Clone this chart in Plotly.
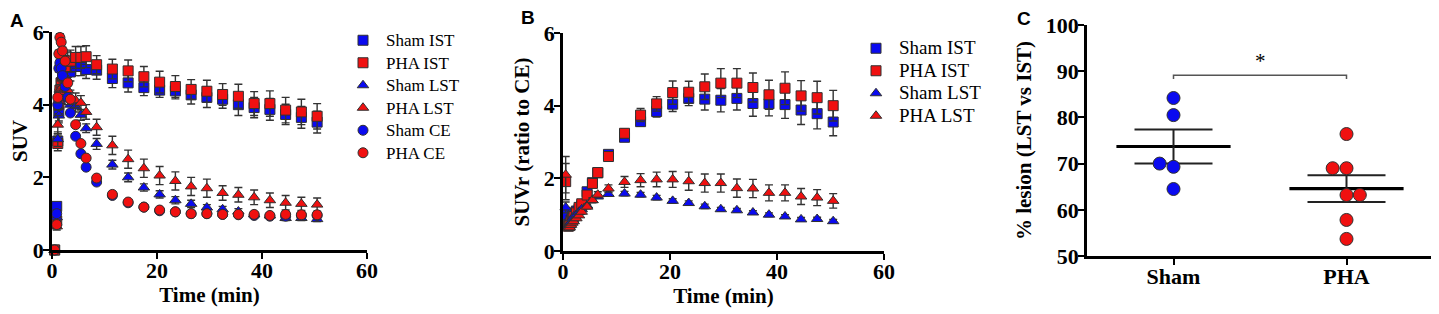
import plotly.graph_objects as go

# ---------------- Panel A data ----------------
t_a = [0.5, 0.9, 1.1, 1.3, 1.5, 1.75, 2.0, 2.5, 3.0, 3.5, 4.5, 5.5, 6.5, 8.5, 11.5, 14.5,
       17.5, 20.5, 23.5, 26.5, 29.5, 32.5, 35.5, 38.5, 41.5, 44.5, 47.5, 50.5]
sham_ist_a = [0, 1.2, 3.0, 3.8, 4.3, 4.6, 4.95, 5.1, 5.0, 4.9, 5.05, 5.05, 4.97, 4.95, 4.72, 4.6,
              4.47, 4.4, 4.38, 4.27, 4.2, 4.15, 4.0, 3.92, 3.87, 3.73, 3.65, 3.52]
pha_ist_a = [0, 0.8, 2.93, 4.0, 4.4, 4.6, 4.8, 5.05, 5.2, 5.2, 5.3, 5.3, 5.32, 5.1, 4.98, 4.93,
             4.77, 4.62, 4.5, 4.42, 4.37, 4.28, 4.23, 4.03, 4.03, 3.85, 3.8, 3.68]
sham_lst_a = [0, 0.9, 3.05, 3.7, 4.1, 4.3, 4.4, 4.3, 4.2, 4.0, 3.95, 3.72, 3.35, 2.92, 2.35, 2.0,
              1.72, 1.53, 1.37, 1.27, 1.17, 1.12, 1.06, 0.98, 0.95, 0.88, 0.88, 0.85]
pha_lst_a = [0, 0.65, 3.45, 4.1, 4.35, 4.45, 4.5, 4.45, 4.4, 4.2, 4.12, 4.05, 3.8, 3.38, 2.88, 2.5,
             2.25, 2.05, 1.9, 1.75, 1.7, 1.57, 1.52, 1.45, 1.37, 1.3, 1.27, 1.25]
sham_ce_a = [0, 1.0, 4.0, 5.0, 5.15, 5.0, 4.8, 4.5, 4.2, 3.77, 3.13, 2.65, 2.28, 1.87, 1.5, 1.3,
             1.18, 1.08, 1.05, 1.0, 1.0, 0.98, 0.97, 0.95, 0.93, 0.93, 0.95, 0.95]
pha_ce_a = [0, 0.7, 4.2, 5.4, 5.85, 5.72, 5.48, 5.2, 4.6, 4.15, 3.45, 2.93, 2.53, 1.98, 1.53, 1.32,
            1.18, 1.1, 1.05, 1.0, 1.0, 0.98, 0.98, 0.98, 0.95, 0.98, 0.97, 0.97]

err_sham_ist_a = [0, 0.1, 0.2, 0.25, 0.25, 0.25, 0.25, 0.25, 0.25, 0.25, 0.25, 0.25, 0.25, 0.25, 0.25, 0.25,
                  0.22, 0.2, 0.22, 0.25, 0.28, 0.25, 0.3, 0.28, 0.3, 0.28, 0.3, 0.3]
err_pha_ist_a = [0, 0.1, 0.2, 0.25, 0.25, 0.25, 0.25, 0.25, 0.25, 0.3, 0.3, 0.3, 0.3, 0.25, 0.27, 0.3,
                 0.28, 0.3, 0.3, 0.27, 0.3, 0.3, 0.33, 0.33, 0.35, 0.35, 0.35, 0.35]
err_sham_lst_a = [0, 0.1, 0.2, 0.2, 0.2, 0.2, 0.2, 0.2, 0.2, 0.15, 0.15, 0.15, 0.12, 0.15, 0.12, 0.12,
                  0.1, 0.1, 0.1, 0.1, 0.08, 0.08, 0.08, 0.07, 0.07, 0.07, 0.07, 0.07]
err_pha_lst_a = [0, 0.1, 0.25, 0.2, 0.2, 0.2, 0.2, 0.2, 0.2, 0.2, 0.2, 0.2, 0.2, 0.22, 0.25, 0.25,
                 0.25, 0.25, 0.25, 0.25, 0.25, 0.2, 0.2, 0.2, 0.2, 0.2, 0.18, 0.18]
err_sham_ce_a = [0, 0.1, 0.15, 0.1, 0.1, 0.1, 0.1, 0.08, 0.08, 0.05, 0.05, 0.05, 0.05, 0.05, 0.04, 0.04,
                 0.04, 0.04, 0.04, 0.04, 0.04, 0.04, 0.04, 0.04, 0.04, 0.04, 0.04, 0.04]
err_pha_ce_a = [0, 0.1, 0.15, 0.1, 0.1, 0.1, 0.1, 0.08, 0.08, 0.05, 0.05, 0.05, 0.05, 0.05, 0.04, 0.04,
                0.04, 0.04, 0.04, 0.04, 0.04, 0.04, 0.04, 0.04, 0.04, 0.04, 0.04, 0.04]

# ---------------- Panel B data ----------------
t_b = [0.5, 1.0, 1.25, 1.5, 1.75, 2.0, 2.5, 3.0, 3.5, 4.5, 5.5, 6.5, 8.5, 11.5, 14.5, 17.5,
       20.5, 23.5, 26.5, 29.5, 32.5, 35.5, 38.5, 41.5, 44.5, 47.5, 50.5]
sham_ist_b = [1.0, 0.72, 0.75, 0.85, 0.95, 1.05, 1.1, 1.15, 1.25, 1.63, 1.88, 2.15, 2.66, 3.13, 3.56, 3.84,
              4.04, 4.2, 4.18, 4.15, 4.2, 4.06, 4.05, 4.03, 3.88, 3.78, 3.55]
pha_ist_b = [1.91, 0.68, 0.7, 0.8, 0.9, 0.95, 1.05, 1.2, 1.3, 1.54, 1.86, 2.16, 2.6, 3.24, 3.74, 4.05,
             4.36, 4.37, 4.52, 4.62, 4.62, 4.5, 4.3, 4.48, 4.27, 4.22, 4.0]
sham_lst_b = [1.2, 0.7, 0.72, 0.8, 0.9, 0.95, 1.0, 1.08, 1.15, 1.25, 1.4, 1.5, 1.57, 1.58, 1.55, 1.47,
              1.38, 1.32, 1.23, 1.15, 1.12, 1.06, 1.0, 0.95, 0.87, 0.88, 0.82]
pha_lst_b = [2.1, 0.65, 0.65, 0.72, 0.78, 0.82, 0.9, 0.98, 1.08, 1.22, 1.4, 1.55, 1.72, 1.9, 1.95, 1.97,
             1.97, 1.92, 1.87, 1.87, 1.73, 1.72, 1.6, 1.6, 1.5, 1.47, 1.38]

err_sham_ist_b = [0.2, 0.05, 0.05, 0.05, 0.05, 0.05, 0.05, 0.05, 0.05, 0.05, 0.05, 0.05, 0.07, 0.1, 0.12, 0.15,
                  0.2, 0.2, 0.3, 0.32, 0.32, 0.35, 0.33, 0.38, 0.4, 0.42, 0.38]
err_pha_ist_b = [0.5, 0.05, 0.05, 0.05, 0.05, 0.05, 0.05, 0.05, 0.05, 0.05, 0.05, 0.05, 0.07, 0.12, 0.18, 0.2,
                 0.32, 0.3, 0.35, 0.4, 0.4, 0.4, 0.4, 0.45, 0.42, 0.45, 0.42]
err_sham_lst_b = [0.15, 0.03, 0.03, 0.03, 0.03, 0.03, 0.03, 0.03, 0.03, 0.04, 0.04, 0.05, 0.05, 0.06, 0.06, 0.06,
                  0.06, 0.06, 0.06, 0.05, 0.05, 0.05, 0.05, 0.05, 0.05, 0.05, 0.05]
err_pha_lst_b = [0.5, 0.03, 0.03, 0.03, 0.03, 0.03, 0.04, 0.04, 0.05, 0.06, 0.07, 0.08, 0.1, 0.15, 0.18, 0.2,
                 0.22, 0.25, 0.25, 0.25, 0.25, 0.25, 0.22, 0.22, 0.22, 0.22, 0.2]

# ---------------- Panel C data ----------------
groups_c = ["Sham", "PHA"]
sham_c = [84.2, 80.5, 70.0, 69.3, 64.5]
sham_c_jitter = [0, 0, -0.08, 0, 0]
pha_c = [76.4, 69.0, 69.0, 63.2, 63.2, 57.8, 53.7]
pha_c_jitter = [0, -0.08, 0, 0, 0.077, 0, 0]
sham_mean, sham_sem = 73.7, 3.7
pha_mean, pha_sem = 64.6, 2.9

BLUE = "#0a0af0"
RED = "#f01010"
EDGE = "#303030"
SERIF = "Liberation Serif"

fig = go.Figure()


def series(x, y, err, name, color, symbol, xa, ya, legend, txtsize, size=10):
    fig.add_trace(go.Scatter(
        x=x, y=y, mode="markers",
        name=f"<span style='font-size:{txtsize}px'>{name}</span>", legend=legend,
        xaxis=xa, yaxis=ya, cliponaxis=False,
        marker=dict(symbol=symbol, size=size, color=color, line=dict(color=EDGE, width=1)),
        error_y=dict(type="data", array=err, visible=True, color="#333333", thickness=1.4, width=4),
    ))


series(t_a, sham_ist_a, err_sham_ist_a, "Sham IST", BLUE, "square", "x", "y", "legend", 17)
series(t_a, pha_ist_a, err_pha_ist_a, "PHA IST", RED, "square", "x", "y", "legend", 17)
series(t_a, sham_lst_a, err_sham_lst_a, "Sham LST", BLUE, "triangle-up", "x", "y", "legend", 17)
series(t_a, pha_lst_a, err_pha_lst_a, "PHA LST", RED, "triangle-up", "x", "y", "legend", 17)
series(t_a, sham_ce_a, err_sham_ce_a, "Sham CE", BLUE, "circle", "x", "y", "legend", 17)
series(t_a, pha_ce_a, err_pha_ce_a, "PHA CE", RED, "circle", "x", "y", "legend", 17)

series(t_b, sham_ist_b, err_sham_ist_b, "Sham IST", BLUE, "square", "x2", "y2", "legend2", 19)
series(t_b, pha_ist_b, err_pha_ist_b, "PHA IST", RED, "square", "x2", "y2", "legend2", 19)
series(t_b, sham_lst_b, err_sham_lst_b, "Sham LST", BLUE, "triangle-up", "x2", "y2", "legend2", 19)
series(t_b, pha_lst_b, err_pha_lst_b, "PHA LST", RED, "triangle-up", "x2", "y2", "legend2", 19)

# Panel C: mean lines, SEM, points
for gi, (m, s) in enumerate([(sham_mean, sham_sem), (pha_mean, pha_sem)]):
    fig.add_trace(go.Scatter(x=[gi - 0.33, gi + 0.33], y=[m, m], mode="lines",
                             line=dict(color="black", width=3.2), showlegend=False,
                             xaxis="x3", yaxis="y3", hoverinfo="skip"))
    fig.add_trace(go.Scatter(x=[gi], y=[m], mode="markers", marker=dict(size=1, color="black"),
                             error_y=dict(type="data", array=[s], visible=True, color="#222222",
                                          thickness=2, width=39),
                             showlegend=False, xaxis="x3", yaxis="y3", hoverinfo="skip"))

fig.add_trace(go.Scatter(x=[0 + j for j in sham_c_jitter], y=sham_c, mode="markers",
                         marker=dict(symbol="circle", size=13, color=BLUE, line=dict(color=EDGE, width=1)),
                         showlegend=False, xaxis="x3", yaxis="y3"))
fig.add_trace(go.Scatter(x=[1 + j for j in pha_c_jitter], y=pha_c, mode="markers",
                         marker=dict(symbol="circle", size=13, color=RED, line=dict(color=EDGE, width=1)),
                         showlegend=False, xaxis="x3", yaxis="y3"))
# significance bracket
fig.add_trace(go.Scatter(x=[0, 0, 1, 1], y=[88.3, 89.1, 89.1, 88.3], mode="lines",
                         line=dict(color="#555555", width=1.5), showlegend=False,
                         xaxis="x3", yaxis="y3", hoverinfo="skip"))
fig.add_annotation(x=0.5, y=89.1, xref="x3", yref="y3", text="*", showarrow=False,
                   yanchor="bottom", font=dict(family=SERIF, size=21, color="black"))

# the page body adds an 8 px margin, so the figure is sized and positioned to compensate
OFF = 8
W, H = 1439 - OFF, 314 - OFF


def px_x(p):
    return (p - OFF) / W


def px_y(p):
    return 1 - (p - OFF) / H


tickfont = dict(family=SERIF, size=22, color="black", weight="bold")
titlefont = dict(family=SERIF, size=21, color="black", weight="bold")
axcommon = dict(showline=True, linecolor="black", linewidth=2.5, ticks="outside", ticklen=6,
                tickwidth=2, tickcolor="black", showgrid=False, zeroline=False,
                tickfont=tickfont, automargin=False)
xcommon = dict(ticklabelstandoff=-7, **axcommon)
ycommon = dict(ticklabelstandoff=-5, **axcommon)

fig.update_layout(
    width=W, height=H, margin=dict(l=0, r=0, t=0, b=0),
    plot_bgcolor="white", paper_bgcolor="white",
    xaxis=dict(domain=[px_x(52), px_x(367)], range=[0, 60], dtick=20, anchor="y",
               title=dict(text="Time (min)", font=titlefont, standoff=6), **xcommon),
    yaxis=dict(domain=[px_y(250), px_y(32)], range=[0, 6], dtick=2, anchor="x",
               title=dict(text="SUV", font=titlefont, standoff=9), **ycommon),
    xaxis2=dict(domain=[px_x(563), px_x(884)], range=[0, 60], dtick=20, anchor="y2",
                title=dict(text="Time (min)", font=titlefont, standoff=6), **xcommon),
    yaxis2=dict(domain=[px_y(251), px_y(33)], range=[0, 6], dtick=2, anchor="x2",
                title=dict(text="SUVr (ratio to CE)", font=titlefont, standoff=9), **ycommon),
    xaxis3=dict(domain=[px_x(1087), px_x(1433)], range=[-0.5, 1.5], tickvals=[0, 1],
                ticktext=groups_c, anchor="y3", **xcommon),
    yaxis3=dict(domain=[px_y(256), px_y(25)], range=[50, 100], dtick=10, anchor="x3",
                title=dict(text="% lesion (LST vs IST)", font=titlefont, standoff=9), **ycommon),
    legend=dict(x=px_x(340), y=px_y(24), xanchor="left", yanchor="top",
                font=dict(family=SERIF, size=15, color="black"), bgcolor="rgba(0,0,0,0)",
                tracegroupgap=0, itemwidth=36),
    legend2=dict(x=px_x(853), y=px_y(32), xanchor="left", yanchor="top",
                 font=dict(family=SERIF, size=15, color="black"), bgcolor="rgba(0,0,0,0)",
                 tracegroupgap=0, itemwidth=36),
    showlegend=True,
)

panel_font = dict(family="Liberation Sans", size=19, color="black", weight="bold")
for txt, xp, yp in [("A", 8, 8), ("B", 519, 5), ("C", 1015, 6)]:
    fig.add_annotation(x=px_x(xp), y=px_y(yp), xref="paper", yref="paper", text=txt,
                       showarrow=False, xanchor="left", yanchor="top", font=panel_font)

fig.write_html("out.html")
